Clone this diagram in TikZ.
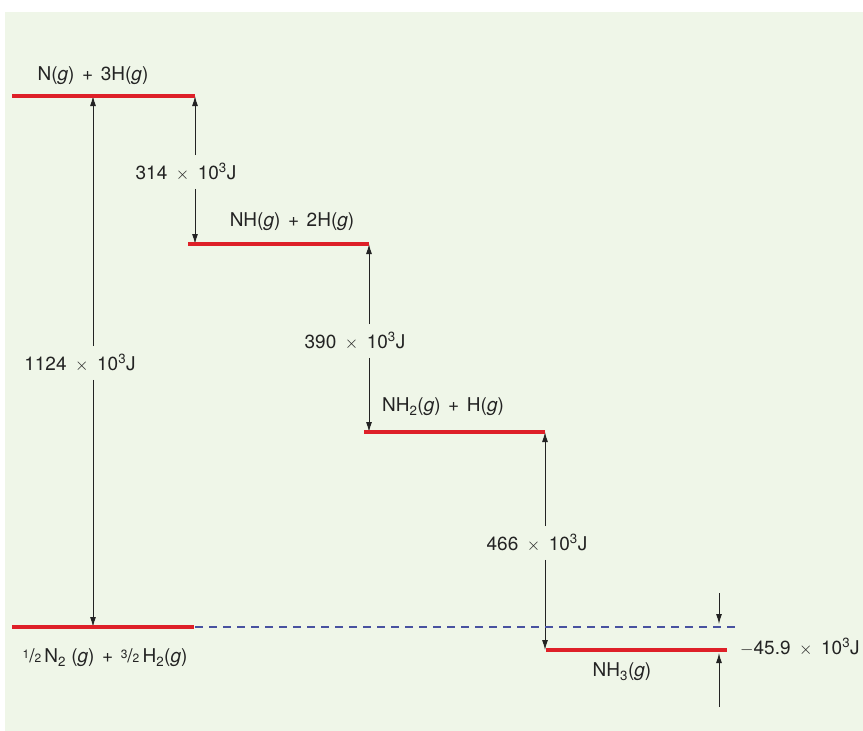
\documentclass[tikz,border=0pt]{standalone}
\usepackage{fontspec}
\setmainfont{TeX Gyre Heros}
\usetikzlibrary{arrows.meta}
\definecolor{bggreen}{RGB}{239,246,232}
\definecolor{lvred}{RGB}{222,32,40}
\definecolor{dashblue}{RGB}{72,82,160}
\definecolor{txtgray}{RGB}{35,35,35}
\newcommand{\vfrac}[2]{\raisebox{0.45ex}{\fontsize{12}{12}\selectfont #1}/{\fontsize{12}{12}\selectfont #2}}
\newcommand{\kjoule}[1]{#1\hspace{0.45em}$\times$\hspace{0.45em}10\textsuperscript{3}J}
\newcommand{\plus}{\hspace{0.4em}+\hspace{0.4em}}

\begin{document}
\begin{tikzpicture}[x=1pt, y=-1pt]
        \tikzstyle{every node}=[text=txtgray, font=\fontsize{19}{22}\selectfont, inner sep=1pt]
        \tikzstyle{energy}=[draw=lvred, line width=4pt]
        \tikzstyle{jump}=[draw=txtgray, line width=1pt, -{Latex[length=10pt,width=6pt]}]
        \tikzstyle{value}=[inner xsep=1pt, inner ysep=8pt]
        \useasboundingbox (0,0) rectangle (863,731);
        \fill[bggreen] (5,12) rectangle (863,731);
        % arrow ends
        \coordinate (a1) at (93,96); \coordinate (a2) at (93,627);
        \coordinate (b1) at (195,96); \coordinate (b2) at (195,244);
        \coordinate (c1) at (369,244); \coordinate (c2) at (369,432);
        \coordinate (d1) at (545,432); \coordinate (d2) at (545,650);
        \coordinate (f1) at (719,593); \coordinate (f2) at (719,624);
        \coordinate (g1) at (719,707); \coordinate (g2) at (719,653);
        % energy values
        \node[value] (e1124) at (80,363) {\kjoule{1124}};
        \node[value] (e314) at (186,172) {\kjoule{314}};
        \node[value] (e390) at (355,341) {\kjoule{390}};
        \node[value] (e466) at (537,543) {\kjoule{466}};
        \node[anchor=west] (e459) at (739,647) {$-$\kjoule{45.9}};
        \draw[jump] (e1124.north -| a1) -- (a1);
        \draw[jump] (e1124.south -| a2) -- (a2);
        \draw[jump] (e314.north -| b1) -- (b1);
        \draw[jump] (e314.south -| b2) -- (b2);
        \draw[jump] (e390.north -| c1) -- (c1);
        \draw[jump] (e390.south -| c2) -- (c2);
        \draw[jump] (e466.north -| d1) -- (d1);
        \draw[jump] (e466.south -| d2) -- (d2);
        \draw[jump] (f1) -- (f2);
        \draw[jump] (g1) -- (g2);
        % levels
        \draw[dashblue, line width=2pt, dash pattern=on 8pt off 6pt] (195,627) -- (738,627);
        \draw[energy] (12,96) -- (195,96);
        \draw[energy] (188,244) -- (369,244);
        \draw[energy] (364,432) -- (545,432);
        \draw[energy] (546,650) -- (727,650);
        \draw[energy] (12,627) -- (194,627);
        \node (atoms) at (93,76) {N(\textit{g})\plus3H(\textit{g})};
        \node (nh) at (292,222) {NH(\textit{g})\plus2H(\textit{g})};
        \node (nhtwo) at (443,407) {NH\textsubscript{2}(\textit{g})\plus H(\textit{g})};
        \node (nhthree) at (622,672) {NH\textsubscript{3}(\textit{g})};
        \node (elements) at (105,658) {\vfrac12\,N\textsubscript{2} (\textit{g})\plus\vfrac32\,H\textsubscript{2}(\textit{g})};
\end{tikzpicture}
\end{document}
